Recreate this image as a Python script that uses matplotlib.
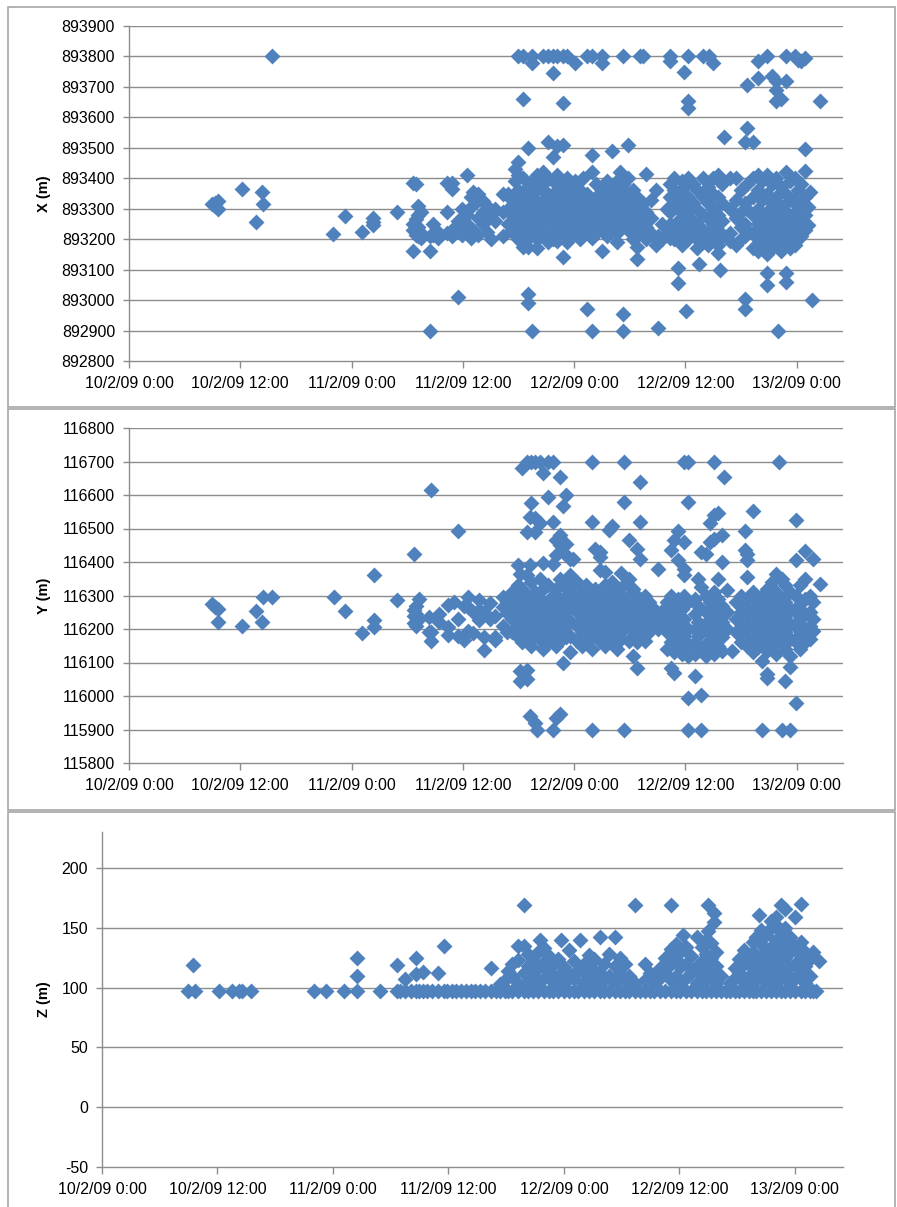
import matplotlib.pyplot as plt
from matplotlib.patches import Rectangle
from matplotlib.ticker import FuncFormatter

plt.rcParams['font.family'] = ['Liberation Sans', 'DejaVu Sans']

# hours since 10/2/09 0:00 -> values
date_ticks = [0, 12, 24, 36, 48, 60, 72]
date_labels = ['10/2/09 0:00', '10/2/09 12:00', '11/2/09 0:00', '11/2/09 12:00',
               '12/2/09 0:00', '12/2/09 12:00', '13/2/09 0:00']

x_cols = [
    (9.0, [893315]), (9.3, [893310, 893320]), (9.6, [893325, 893300]),
    (12.2, [893365]), (13.7, [893255]), (14.3, [893355]), (14.4, [893315]),
    (15.4, [893800]), (22.0, [893218]), (23.3, [893275]), (25.1, [893225]),
    (26.3, [893270, 893255, 893245]), (28.9, [893290]),
    (30.6, [893385, 893230, 893250, 893160]), (30.9, [893380, 893265, 893215, 893225]),
    (31.2, [893310, 893280, 893240, 893210]), (31.5, [893290, 893220, 893205]),
    (32.5, [893160, 892900, 893210]), (32.8, [893250, 893215]), (33.3, [893205, 893225]),
    (34.3, [893290, 893385, 893220]), (34.8, [893365, 893385, 893230, 893210]),
    (35.5, [893010, 893235, 893260]), (35.9, [893300, 893270, 893215]),
    (36.4, [893410, 893280, 893250, 893225]), (36.9, [893340, 893305, 893205]),
    (37.1, [893355, 893230]), (37.6, [893350, 893330, 893270, 893215]),
    (38.2, [893325, 893290, 893250]), (38.6, [893310, 893265, 893225]),
    (39.0, [893280, 893200]), (39.5, [893300, 893260]),
    (40.3, [893350, 893290, 893210]), (40.9, [893350, 893300, 893250]),
    (41.3, [893330, 893280, 893230]),
    (41.6, [893430, 893390, 893330, 893290, 893250, 893215]),
    (42.0, [893800, 893455, 893410, 893360, 893310, 893270, 893230, 893200]),
    (42.5, [893660, 893800, 893400, 893340, 893300, 893260, 893220, 893175]),
    (43.0, [893500, 893370, 893325, 893280, 893240, 893205, 893175, 893020, 892990]),
    (43.5, [893800, 893780, 893390, 893350, 893300, 893260, 893220, 892900]),
    (44.0, [893410, 893360, 893320, 893280, 893240, 893200, 893170]),
    (44.6, [893800, 893420, 893380, 893330, 893290, 893250, 893210]),
    (45.2, [893800, 893520, 893400, 893350, 893305, 893265, 893225, 893190]),
    (45.7, [893800, 893745, 893470, 893390, 893340, 893300, 893260, 893220, 893200]),
    (46.2, [893800, 893505, 893410, 893360, 893320, 893280, 893240, 893195]),
    (46.8, [893800, 893648, 893510, 893380, 893335, 893295, 893250, 893215, 893140]),
    (47.2, [893800, 893400, 893350, 893310, 893270, 893230, 893190]),
    (47.7, [893370, 893330, 893290, 893250, 893210]),
    (48.1, [893780, 893390, 893345, 893300, 893260, 893220]),
    (48.6, [893360, 893320, 893280, 893240, 893200]),
    (49.0, [893400, 893340, 893300, 893255, 893215]),
    (49.4, [893800, 893350, 893310, 893270, 893225, 892970]),
    (49.9, [893800, 893475, 893420, 893330, 893290, 893250, 893205, 892900]),
    (50.4, [893380, 893340, 893300, 893260, 893220]),
    (51.0, [893800, 893780, 893360, 893320, 893280, 893240, 893160]),
    (51.5, [893390, 893330, 893290, 893250, 893210]),
    (52.1, [893490, 893360, 893310, 893270, 893230]),
    (52.6, [893390, 893340, 893300, 893260, 893220, 893190]),
    (53.0, [893420, 893360, 893320, 893280, 893240]),
    (53.3, [893800, 893380, 893330, 893290, 893250, 892955, 892900]),
    (53.8, [893510, 893400, 893350, 893310, 893270, 893230]),
    (54.3, [893360, 893320, 893280, 893240, 893200]),
    (54.8, [893340, 893300, 893255, 893210, 893175, 893135]),
    (55.1, [893800]), (55.4, [893800, 893320, 893270, 893225]),
    (55.8, [893415, 893290, 893240, 893200]), (56.3, [893330, 893270, 893220]),
    (56.8, [893360, 893200, 893180]), (57.0, [892910, 893210]),
    (57.5, [893250, 893200]), (58.0, [893300, 893220]),
    (58.3, [893800, 893785, 893380, 893340, 893290, 893250, 893205]),
    (58.8, [893400, 893360, 893310, 893220, 893200]),
    (59.2, [893350, 893300, 893260, 893105, 893055]),
    (59.6, [893390, 893330, 893240, 893200, 893180]),
    (59.9, [893750, 893370, 893310, 893270, 893210]), (60.1, [892965]),
    (60.3, [893800, 893655, 893630, 893400, 893340, 893290, 893240, 893200]),
    (60.8, [893380, 893320, 893260, 893215]),
    (61.3, [893360, 893300, 893250, 893200, 893170]), (61.5, [893120]),
    (61.9, [893800, 893400, 893340, 893280, 893230, 893190]),
    (62.4, [893370, 893320, 893270, 893220, 893180]), (62.6, [893800]),
    (63.0, [893780, 893400, 893350, 893300, 893250, 893200]),
    (63.5, [893410, 893340, 893280, 893230, 893180, 893155]), (63.7, [893100]),
    (64.0, [893380, 893320, 893260, 893210]), (64.2, [893535]),
    (64.8, [893400, 893300, 893220, 893195]), (65.5, [893400, 893330, 893270, 893180]),
    (66.0, [893360, 893290, 893240, 893200]),
    (66.4, [893520, 893005, 892970, 893320, 893250, 893210]),
    (66.7, [893705, 893565, 893380, 893300, 893230]),
    (67.3, [893520, 893400, 893340, 893280, 893220, 893170]),
    (67.8, [893785, 893730, 893410, 893360, 893300, 893250, 893200, 893160]),
    (68.3, [893390, 893330, 893270, 893220, 893180]),
    (68.8, [893800, 893090, 893050, 893410, 893350, 893290, 893240, 893195, 893150]),
    (69.3, [893735, 893380, 893320, 893270, 893220, 893170]),
    (69.8, [893720, 893690, 893655, 893400, 893340, 893290, 893240, 893195]),
    (70.0, [892900]),
    (70.3, [893660, 893370, 893310, 893260, 893210, 893160]),
    (70.9, [893720, 893800, 893420, 893350, 893290, 893240, 893190, 893090, 893060]),
    (71.3, [893390, 893330, 893270, 893220, 893170]),
    (71.8, [893800, 893400, 893340, 893290, 893230, 893180]),
    (72.1, [893790, 893360, 893310, 893250, 893200]),
    (72.5, [893785, 893380, 893320, 893270, 893210]),
    (72.9, [893795, 893495, 893425, 893340, 893280, 893230]),
    (73.2, [893245, 893305]), (73.4, [893355]), (73.7, [893000]), (74.5, [893655]),
]

y_cols = [
    (9.0, [116275]), (9.3, [116265]), (9.6, [116260, 116222]), (12.2, [116210]),
    (13.7, [116255]), (14.3, [116222]), (14.4, [116295]), (15.4, [116295]),
    (22.1, [116295]), (23.3, [116255]), (25.1, [116187]),
    (26.4, [116360, 116228, 116206]), (28.9, [116288]),
    (30.7, [116425, 116258, 116218, 116240]), (31.0, [116270, 116210, 116245]),
    (31.3, [116290, 116230]), (32.3, [116237, 116192]),
    (32.6, [116614, 116190, 116163]), (33.4, [116245, 116220]),
    (34.4, [116272, 116183, 116205]), (35.0, [116282]),
    (35.5, [116492, 116230, 116180]), (36.1, [116167, 116270]),
    (36.6, [116297, 116267, 116195]), (37.1, [116250, 116188]),
    (37.7, [116287, 116257, 116227]), (38.3, [116177, 116137, 116250]),
    (38.9, [116277, 116230]), (39.5, [116177, 116167, 116240]),
    (40.3, [116297, 116265, 116210]), (40.8, [116248, 116280, 116190]),
    (41.3, [116310, 116270, 116230, 116190]),
    (41.9, [116390, 116330, 116290, 116250, 116210, 116175]),
    (42.2, [116365, 116075, 116045]),
    (42.4, [116680, 116320, 116280, 116240, 116200, 116160]),
    (42.9, [116700, 116490, 116360, 116300, 116260, 116220, 116180, 116078, 116050]),
    (43.2, [116535, 116390, 115940]),
    (43.4, [116700, 116575, 116340, 116280, 116240, 116200, 116150]),
    (43.8, [116700, 116530, 116490, 116310, 116260, 116220, 116180, 115920]),
    (44.0, [115900]),
    (44.3, [116700, 116515, 116350, 116290, 116250, 116210, 116170]),
    (44.6, [116665, 116398, 116320, 116270, 116230, 116190, 116140]),
    (45.2, [116700, 116595, 116330, 116285, 116245, 116205, 116160]),
    (45.7, [116700, 116518, 116395, 116300, 116260, 116215, 116175, 115900]),
    (46.1, [116465, 116420, 116320, 116270, 116230, 116190, 116150, 115935]),
    (46.5, [116655, 116480, 116450, 116350, 116290, 116250, 116210, 116165, 115945]),
    (46.8, [116568, 116430, 116330, 116280, 116240, 116195, 116100]),
    (47.1, [116600, 116455, 116345, 116300, 116255, 116215, 116175]),
    (47.6, [116410, 116360, 116310, 116265, 116225, 116180, 116130]),
    (47.9, [116408, 116330, 116280]),
    (48.3, [116340, 116290, 116250, 116210, 116165]),
    (48.8, [116310, 116270, 116230, 116190, 116150]),
    (49.3, [116330, 116280, 116240, 116200, 116160]),
    (49.9, [116700, 116518, 116300, 116260, 116220, 116180, 116140, 115900]),
    (50.3, [116440, 116320, 116280, 116235, 116195]),
    (50.8, [116430, 116415, 116375, 116300, 116250, 116210, 116165]),
    (51.3, [116370, 116330, 116270, 116230, 116190, 116150]),
    (51.8, [116495, 116310, 116260, 116220, 116180]),
    (52.1, [116508, 116340, 116290, 116240, 116200, 116160]),
    (52.6, [116320, 116270, 116230, 116190, 116140]),
    (53.1, [116368, 116300, 116255, 116215, 116170]),
    (53.4, [116700, 116580, 116330, 116280, 116240, 116200, 115900]),
    (53.9, [116465, 116350, 116300, 116255, 116210, 116165]),
    (54.4, [116320, 116270, 116225, 116180, 116120]),
    (54.8, [116440, 116300, 116250, 116205, 116160, 116083]),
    (55.1, [116638, 116518, 116410, 116280, 116235, 116190]),
    (55.6, [116300, 116250, 116210, 116165]), (56.1, [116280, 116230, 116190]),
    (56.6, [116260, 116215]), (57.0, [116378, 116240, 116200]),
    (57.5, [116255, 116210]),
    (58.0, [116280, 116230, 116190, 116140]),
    (58.4, [116435, 116300, 116250, 116200, 116160, 116085]),
    (58.8, [116465, 116270, 116220, 116175, 116130, 116070]),
    (59.2, [116492, 116405, 116290, 116240, 116195, 116150]),
    (59.6, [116260, 116210, 116165, 116125]),
    (59.9, [116700, 116460, 116380, 116360, 116300, 116230, 116180, 116140]),
    (60.3, [116700, 116578, 115995, 116280, 116200, 116155, 116120, 115900]),
    (61.0, [116060, 116290, 116245, 116200, 116160, 116125]),
    (61.4, [116350, 116270, 116220, 116180, 116140]),
    (61.7, [116430, 116325, 116003, 115900]),
    (62.2, [116425, 116300, 116250, 116200, 116155, 116120]),
    (62.7, [116460, 116515, 116280, 116230, 116185, 116140]),
    (63.1, [116700, 116540, 116470, 116310, 116260, 116210, 116165, 116125]),
    (63.5, [116545, 116350, 116290, 116240, 116195, 116150]),
    (64.0, [116480, 116400, 116270, 116220, 116175, 116135]),
    (64.2, [116655]), (64.5, [116315, 116250, 116200]), (65.0, [116133]),
    (65.5, [116280, 116230, 116190]), (66.0, [116300, 116250, 116205, 116160]),
    (66.4, [116492, 116435, 116270, 116225, 116180]),
    (66.7, [116425, 116405, 116355, 116290, 116245, 116200, 116150]),
    (67.3, [116552, 116310, 116260, 116215, 116170, 116130]),
    (67.8, [116280, 116235, 116190, 116145]),
    (68.3, [115900, 116300, 116250, 116205, 116160, 116103]),
    (68.8, [116065, 116055, 116320, 116270, 116225, 116180, 116135]),
    (69.3, [116340, 116290, 116245, 116200, 116150]),
    (69.8, [116365, 116310, 116265, 116220, 116175, 116125]),
    (70.1, [116700]),
    (70.4, [115900, 116350, 116290, 116245, 116200, 116155]),
    (70.7, [116045, 116330, 116280, 116235, 116190, 116140]),
    (71.3, [115900, 116088, 116310, 116260, 116215, 116170, 116120]),
    (71.9, [116525, 115980, 116405, 116300, 116250, 116205, 116160]),
    (72.4, [116330, 116275, 116230, 116185, 116140]),
    (72.9, [116432, 116350, 116290, 116245, 116200, 116160]),
    (73.4, [116300, 116250, 116210, 116170]),
    (73.8, [116410, 116282, 116230, 116195]), (74.5, [116335]),
]

z_cols = [
    (8.95, [97.5]), (9.5, [119]), (9.7, [97.5]), (12.2, [97.5]), (13.5, [97.5]),
    (14.2, [97.5]), (14.5, [97.5]), (15.5, [97.5]), (22.0, [97.5]), (23.3, [97.5]),
    (25.1, [97.5]), (26.5, [97.5, 110, 125]), (28.9, [97.5]), (30.7, [97.5, 119]),
    (31.0, [97.5]), (31.5, [97.5, 107]), (32.1, [97.5]), (32.6, [97.5, 111.5, 125]),
    (32.9, [97.5]), (33.4, [97.5, 113]), (33.8, [97.5]), (34.3, [97.5]),
    (34.9, [97.5, 112]), (35.5, [97.5, 135]), (35.9, [97.5]), (36.4, [97.5]),
    (36.8, [97.5]), (37.3, [97.5]), (37.8, [97.5]), (38.3, [97.5]), (38.8, [97.5]),
    (39.3, [97.5]), (39.8, [97.5]), (40.4, [97.5, 116]), (40.9, [97.5]),
    (41.4, [97.5, 103]), (41.9, [97.5, 106]), (42.2, [97.5, 114]),
    (42.6, [97.5, 110, 120]), (43.2, [97.5, 104, 123, 135]),
    (43.8, [97.5, 169, 135, 112]), (44.3, [97.5, 105, 118, 128]),
    (44.8, [97.5, 110, 122]), (45.3, [97.5, 104, 116, 130]), (45.5, [140]),
    (45.9, [97.5, 108, 121, 133]), (46.4, [97.5, 113, 126]),
    (46.9, [97.5, 105, 119]), (47.4, [97.5, 110, 124]), (47.7, [140]),
    (48.0, [97.5, 104, 117]), (48.5, [97.5, 112, 131]), (49.0, [97.5, 107, 122]),
    (49.5, [97.5, 115]), (49.7, [140]), (50.1, [97.5, 104, 112, 120]),
    (50.6, [97.5, 108, 118, 127]), (51.1, [97.5, 105, 115, 124]),
    (51.7, [97.5, 142, 112]), (52.2, [97.5, 106, 120]), (52.7, [97.5, 110, 128]),
    (53.3, [97.5, 104, 142, 118]), (53.8, [97.5, 112, 125]),
    (54.3, [97.5, 106, 120]), (54.8, [97.5, 110]), (55.4, [97.5, 169, 104]),
    (55.9, [97.5]), (56.4, [97.5, 106, 120]), (56.9, [97.5, 112]),
    (57.4, [97.5, 104]), (58.0, [97.5, 108, 116]), (58.5, [97.5, 112, 125]),
    (59.1, [97.5, 169, 106, 120, 132]), (59.6, [97.5, 110, 124, 136]),
    (60.1, [97.5, 104, 117, 130]), (60.4, [144]), (60.7, [97.5, 108, 120, 134]),
    (61.2, [97.5, 112, 126]), (61.8, [97.5, 104, 118, 142]),
    (62.3, [97.5, 110, 122, 134]), (62.8, [97.5, 106, 116, 128, 140]),
    (63.0, [169, 147]), (63.3, [97.5, 112, 125, 137]), (63.6, [162, 154.5]),
    (63.8, [97.5, 104, 118, 130]), (64.3, [97.5, 110]), (64.8, [97.5]),
    (65.3, [97.5, 104]), (65.8, [97.5, 108, 116]), (66.2, [97.5, 112, 124]),
    (66.7, [97.5, 105, 120, 131]), (67.2, [97.5, 110, 126]),
    (67.6, [97.5, 104, 116, 130, 138]), (68.0, [97.5, 108, 122, 142]),
    (68.3, [161]), (68.5, [97.5, 112, 126, 136, 148]),
    (69.0, [97.5, 105, 118, 130, 144]), (69.5, [97.5, 110, 122, 134, 150, 156]),
    (70.0, [97.5, 104, 116, 128, 140, 152, 159]),
    (70.6, [97.5, 169, 108, 120, 132, 146]), (71.0, [97.5, 166, 112, 125, 138, 150]),
    (71.5, [97.5, 104, 117, 130, 142]), (72.0, [97.5, 108, 120, 134, 159]),
    (72.6, [97.5, 170, 112, 126, 138]), (73.1, [97.5, 104, 118, 130]),
    (73.6, [97.5, 110, 124]), (73.9, [97.5, 130]), (74.2, [97.5]), (74.5, [122]),
]

x_ticks = list(range(892800, 893901, 100))
y_ticks = list(range(115800, 116801, 100))
z_ticks = [-50, 0, 50, 100, 150, 200]

BLUE = '#4F81BD'
GRID = '#8C8C8C'
W, H = 897, 1207
fig = plt.figure(figsize=(W / 100, H / 100), dpi=100)


def px_box(l, t, r, b):
    return [l / W, 1 - b / H, (r - l) / W, (b - t) / H]


# chart area borders
for l, t, r, b in [(8, 7, 895, 407), (8, 409, 895, 810), (8, 812, 895, 1215)]:
    fig.add_artist(Rectangle((l / W, 1 - b / H), (r - l) / W, (b - t) / H,
                             transform=fig.transFigure, fill=False,
                             edgecolor='#A6A6A6', linewidth=1.2))


def panel(rect, cols, ylim, yticks, label, label_x):
    ax = fig.add_axes(px_box(*rect))
    t = [h for h, vals in cols for v in vals]
    v = [v for h, vals in cols for v in vals]
    ax.scatter(t, v, marker='D', s=66, color=BLUE, linewidths=0, zorder=3)
    ax.set_xlim(0, 77)
    ax.set_ylim(*ylim)
    ax.set_xticks(date_ticks)
    ax.set_xticklabels(date_labels)
    ax.set_yticks(yticks)
    ax.yaxis.set_major_formatter(FuncFormatter(lambda val, p: '%d' % val))
    for g in yticks:
        if g > ylim[0]:
            ax.axhline(g, color=GRID, linewidth=1, zorder=1)
    for s in ['top', 'right']:
        ax.spines[s].set_visible(False)
    for s in ['left', 'bottom']:
        ax.spines[s].set_color(GRID)
        ax.spines[s].set_linewidth(1)
    ax.tick_params(axis='y', length=4, width=1, color=GRID, pad=6, labelsize=11.5)
    ax.tick_params(axis='x', length=5, width=1, color=GRID, pad=6, labelsize=11.5)
    cy = (rect[1] + rect[3]) / 2
    fig.text(label_x / W, 1 - cy / H, label, rotation=90, ha='center', va='center',
             fontsize=10.5, fontweight='bold')
    return ax


panel((129, 26, 843, 361), x_cols, (892800, 893900), x_ticks, 'X (m)', 44)
panel((129, 428, 843, 763), y_cols, (115800, 116800), y_ticks, 'Y (m)', 44)
panel((102, 832, 843, 1167), z_cols, (-50, 230), z_ticks, 'Z (m)', 44)

fig.savefig('out.png', dpi=100)
